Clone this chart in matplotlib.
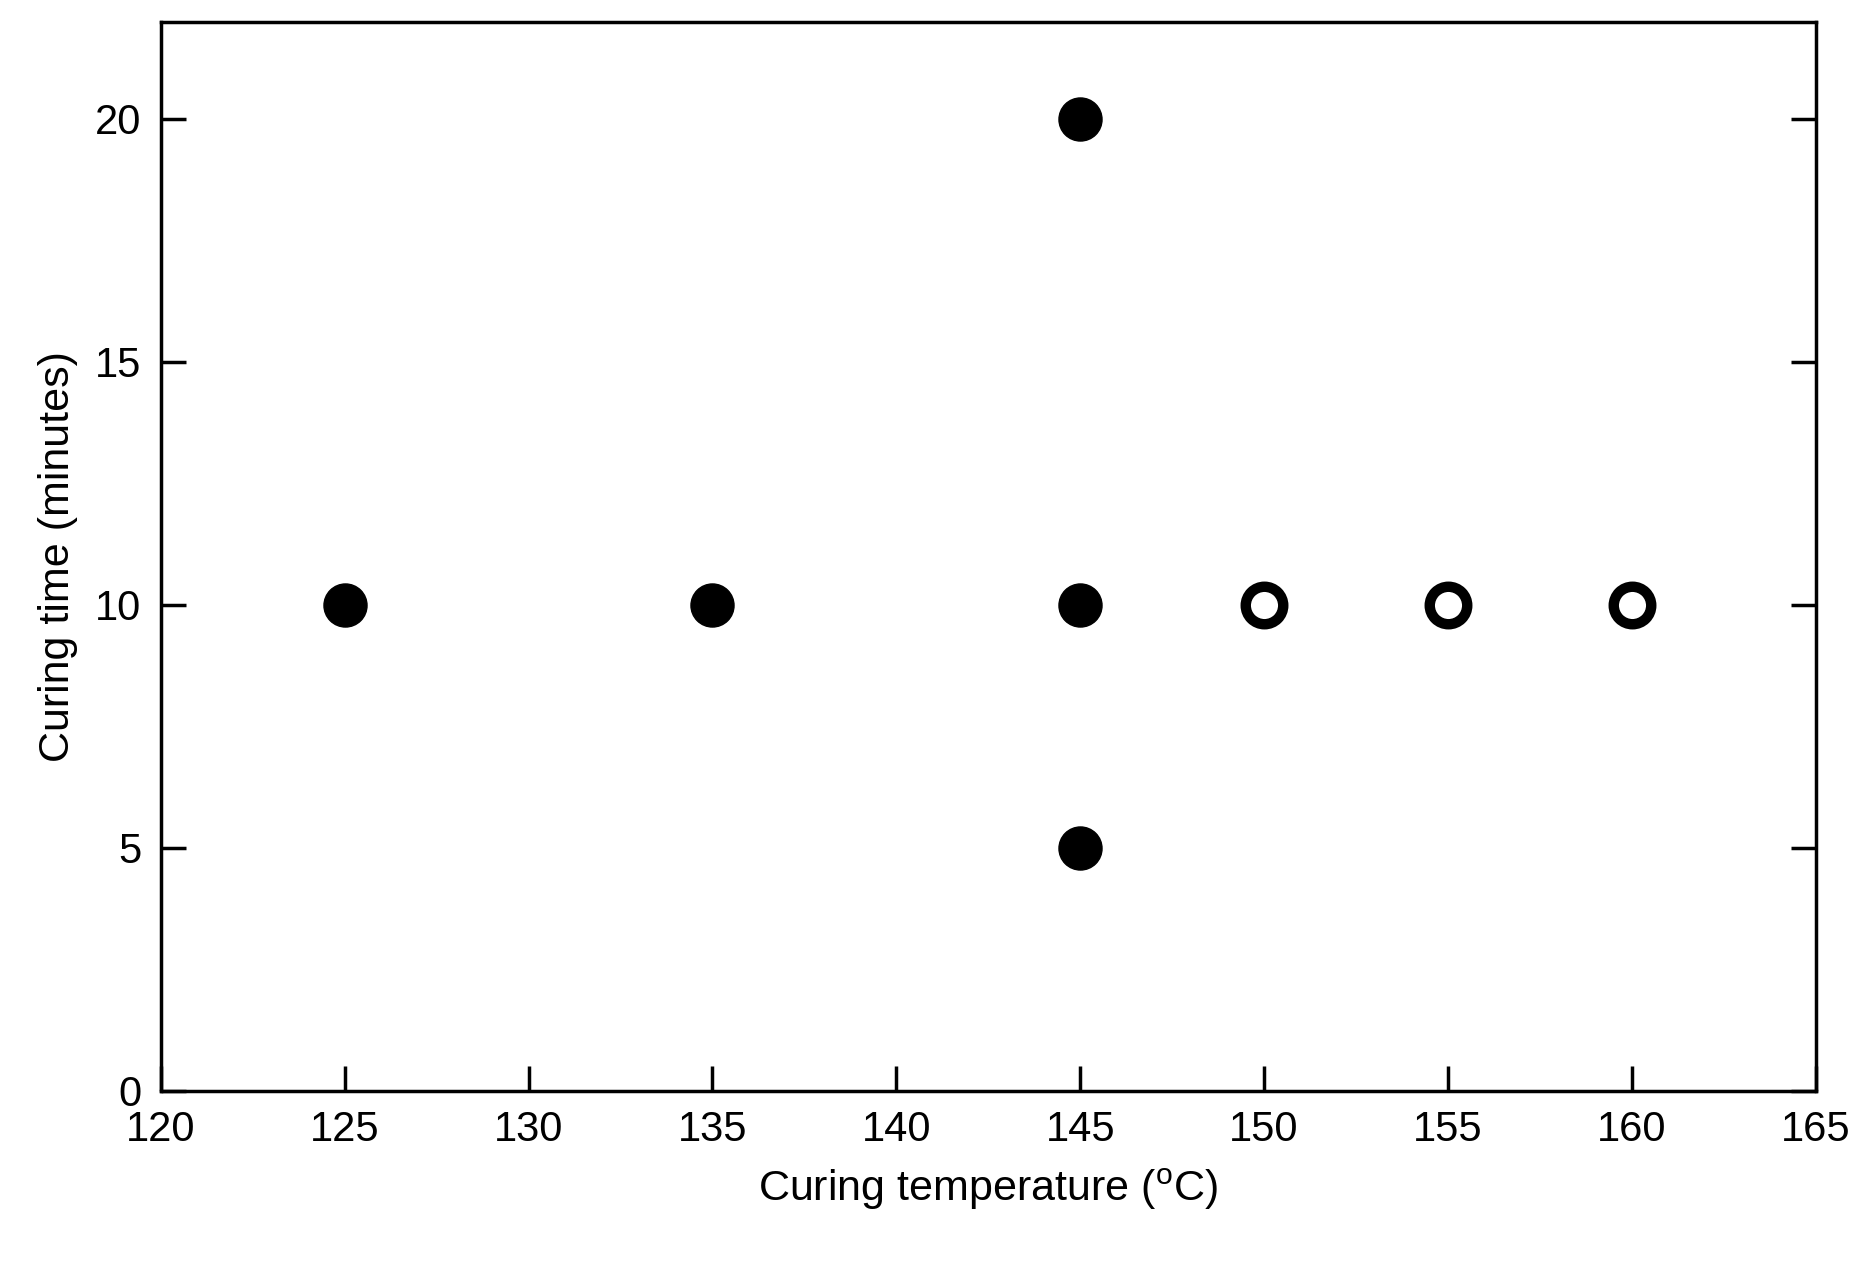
import matplotlib
matplotlib.use("Agg")
import matplotlib.pyplot as plt

plt.rcParams['font.family'] = ['Liberation Sans', 'DejaVu Sans']
plt.rcParams['mathtext.fontset'] = 'custom'
plt.rcParams['mathtext.rm'] = 'Liberation Sans'

filled_temp = [125, 135, 145, 145, 145]
filled_time = [10, 10, 10, 20, 5]
open_temp = [150, 155, 160]
open_time = [10, 10, 10]
xticks = [120, 125, 130, 135, 140, 145, 150, 155, 160, 165]
yticks = [0, 5, 10, 15, 20]

fig = plt.figure(figsize=(18.7, 12.8), dpi=100)
ax = fig.add_axes([0.086, 0.148, 0.885, 0.835])
ax.plot(filled_temp, filled_time, 'o', color='black', markersize=31, linestyle='none')
ax.plot(open_temp, open_time, 'o', markerfacecolor='white', markeredgecolor='black',
        markeredgewidth=7.5, markersize=27, linestyle='none')
ax.set_xlim(120, 165)
ax.set_ylim(0, 22)
ax.set_xticks(xticks)
ax.set_yticks(yticks)
ax.tick_params(direction='in', length=18, width=2.5, labelsize=30, pad=14,
               right=True, top=False)
for s in ax.spines.values():
    s.set_linewidth(2.5)
ax.set_xlabel(r'Curing temperature ($^{\mathrm{o}}$C)', fontsize=31, labelpad=12)
ax.set_ylabel('Curing time (minutes)', fontsize=31, labelpad=12)
fig.savefig('out.png', dpi=100)
